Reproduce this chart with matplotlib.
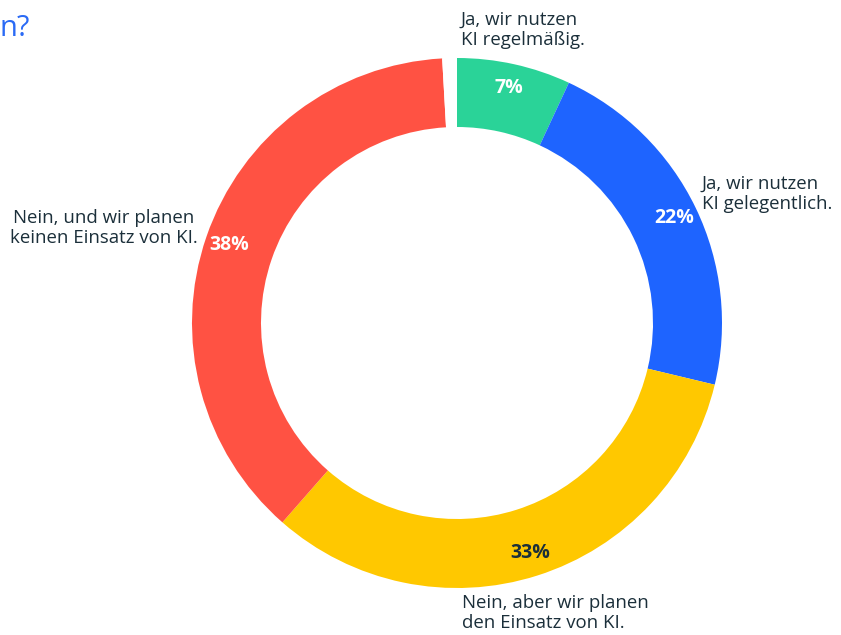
import matplotlib.pyplot as plt
import numpy as np

plt.rcParams['font.family'] = ['Open Sans', 'DejaVu Sans']

# share of companies (%) by answer, clockwise from the top
answers = ["Ja, wir nutzen\nKI regelmäßig.",
           "Ja, wir nutzen\nKI gelegentlich.",
           "Nein, aber wir planen\nden Einsatz von KI.",
           "Nein, und wir planen\nkeinen Einsatz von KI."]
shares = [7, 22, 33, 38]
no_answer = 0.9  # small blank slice left at the top
colors = ["#2ad398", "#1e64ff", "#ffc800", "#ff5243"]
pct_colors = ["white", "white", "#1b2f3a", "white"]
text_color = "#1b2f3a"

fig = plt.figure(figsize=(8.41, 6.35), dpi=100)
ax = fig.add_axes([0, 0, 1, 1])

cx, cy, r = 457, 312, 265
wedges, _ = ax.pie(shares + [no_answer], colors=colors + ["white"],
                   startangle=90, counterclock=False,
                   center=(cx, cy), radius=r,
                   wedgeprops=dict(width=69, linewidth=0))
ax.set_xlim(0, 841)
ax.set_ylim(0, 635)
ax.set_aspect('equal')
ax.axis('off')

for w, val, c in zip(wedges, shares, pct_colors):
    mid = np.deg2rad((w.theta1 + w.theta2) / 2)
    ax.text(cx + 241 * np.cos(mid), cy + 241 * np.sin(mid), f"{val}%",
            ha='center', va='center', fontsize=14, fontweight='bold', color=c)

# answer labels around the ring
fs = 13.4
ax.text(461, 605, answers[0], ha='left', va='center', fontsize=fs,
        color=text_color, linespacing=1.2)
ax.text(702, 441, answers[1], ha='left', va='center', fontsize=fs,
        color=text_color, linespacing=1.2)
ax.text(462, 22, answers[2], ha='left', va='center', fontsize=fs,
        color=text_color, linespacing=1.2)
ax.text(104, 407, answers[3], ha='center', va='center', fontsize=fs,
        color=text_color, linespacing=1.2)

# tail of the heading
ax.text(0, 606, "n?", ha='left', va='center', fontsize=21, color="#2a6af5")

fig.savefig('out.png', dpi=100)
